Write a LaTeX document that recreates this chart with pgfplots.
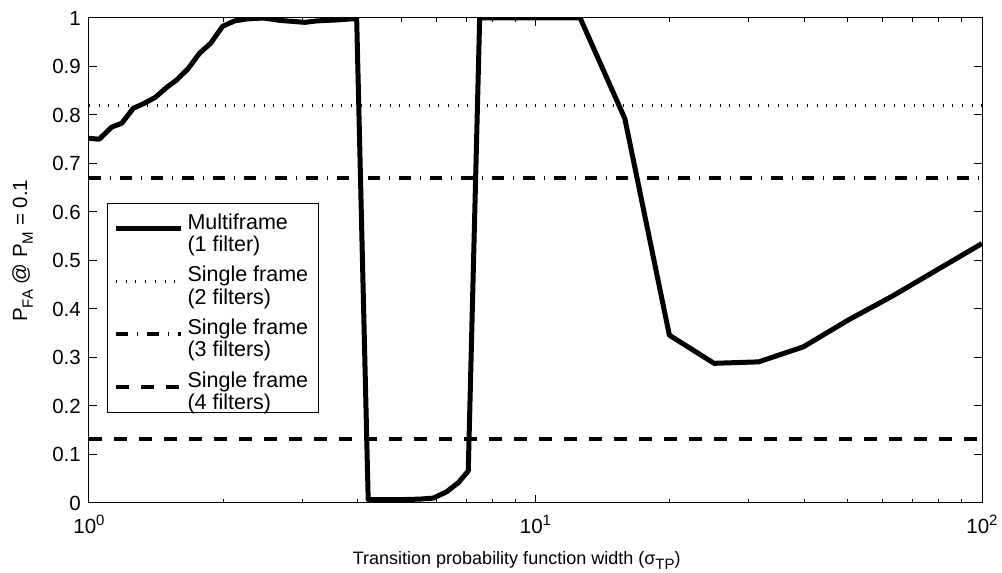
\documentclass[border=0pt]{standalone}
\usepackage{fontspec}
\setmainfont{Liberation Sans}
\usepackage{pgfplots}
\pgfplotsset{compat=1.18}

\newcommand{\tenpow}[1]{10\raisebox{0.75ex}{\fontsize{7.5}{8}\selectfont #1}}
\newcommand{\sub}[1]{\raisebox{-0.55ex}{\fontsize{7.5}{8}\selectfont #1}}
\newcommand{\twoline}[2]{\begin{tabular}{@{}l@{}}#1\\#2\end{tabular}}

\begin{document}
\fontsize{10.25}{11}\selectfont
\begin{tikzpicture}
\path[use as bounding box] (-44.5pt,-35pt) rectangle (456.5pt,251.5pt);
\begin{axis}[
  at={(0pt,0pt)}, anchor=south west,
  scale only axis, width=446.5pt, height=242.5pt,
  xmode=log, log basis x=10,
  xmin=1, xmax=100, ymin=0, ymax=1,
  xtick={1,10,100},
  xticklabels={\tenpow{0},\tenpow{1},\tenpow{2}},
  minor xtick={2,3,4,5,6,7,8,9,20,30,40,50,60,70,80,90},
  ytick={0,0.1,0.2,0.3,0.4,0.5,0.6,0.7,0.8,0.9,1},
  yticklabel style={/pgf/number format/fixed, /pgf/number format/precision=1},
  /pgf/number format/assume math mode=true,
  ticklabel style={font=\fontsize{10.25}{12}\selectfont},
  xticklabel style={yshift=-2.5pt},
  yticklabel style={xshift=-0.5pt},
  tick align=inside,
  major tick length=4pt, minor tick length=2pt,
  axis line style={line width=0.5pt},
  every tick/.style={line width=0.5pt, black},
  xlabel={Transition probability function width (σ\sub{TP})},
  xlabel style={at={(axis description cs:0.479,-0.1258)}, anchor=base,
    font=\fontsize{9}{11}\selectfont},
  ylabel={P\sub{FA} @ P\sub{M} = 0.1},
  ylabel style={at={(axis description cs:-0.0694,0.52)}, anchor=base, rotate=0,
    font=\fontsize{10.25}{12}\selectfont},
  legend cell align=left,
  legend image code/.code={\draw[#1] (0pt,0pt) -- (32.5pt,0pt);},
  legend style={
    at={(axis description cs:0.0202,0.1856)}, anchor=south west,
    draw=black, line width=0.5pt, fill=white,
    font=\fontsize{10.75}{11}\selectfont,
    inner xsep=3pt, inner ysep=3pt, row sep=7pt,
    /tikz/every even column/.append style={column sep=2pt},
  },
]
% detection performance of the multiframe detector
\addplot[black, line width=2.5pt, line join=round] coordinates {
  (1.000,0.752) (1.054,0.750) (1.124,0.775) (1.184,0.783) (1.257,0.814)
  (1.323,0.823) (1.406,0.836) (1.493,0.857) (1.571,0.872) (1.669,0.896)
  (1.767,0.927) (1.873,0.948) (1.993,0.983) (2.120,0.994) (2.255,0.998)
  (2.456,1.000) (2.680,0.995) (3.046,0.991) (3.236,0.994) (3.590,0.996)
  (3.977,0.999) (4.220,0.007) (5.000,0.007) (5.500,0.008) (5.900,0.010)
  (6.320,0.023) (6.720,0.042) (7.070,0.066) (7.500,1.000) (12.59,1.000)
  (15.85,0.793) (19.95,0.346) (25.12,0.288) (31.62,0.291) (39.81,0.322)
  (50.12,0.377) (63.10,0.427) (79.43,0.481) (100.0,0.535)
};
\addlegendentry{\twoline{Multiframe}{(1 filter)}}
% single frame detectors (independent of the transition width)
\addplot[black, line width=1.5pt, dash pattern=on 0.5pt off 4.35pt] coordinates {(1,0.819) (100,0.819)};
\addlegendentry{\twoline{Single frame}{(2 filters)}}
\addplot[black, line width=2pt, dash pattern=on 6pt off 4.5pt on 0.5pt off 4.5pt] coordinates {(1,0.671) (100,0.671)};
\addlegendentry{\twoline{Single frame}{(3 filters)}}
\addplot[black, line width=2pt, dash pattern=on 6.5pt off 6pt] coordinates {(1,0.131) (100,0.131)};
\addlegendentry{\twoline{Single frame}{(4 filters)}}
\end{axis}
\end{tikzpicture}
\end{document}
